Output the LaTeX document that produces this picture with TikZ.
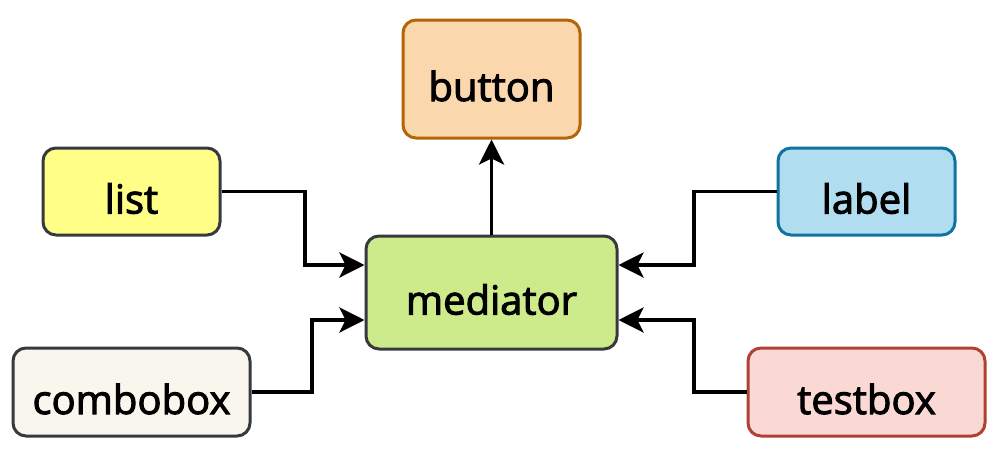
\documentclass[tikz,border=0pt]{standalone}
\usepackage{fontspec}
\setmainfont{Open Sans}
\newfontfamily\boxfont[FakeBold=2.5]{Open Sans}
\usetikzlibrary{arrows.meta}
\definecolor{btnfill}{HTML}{FAD7AC}
\definecolor{btnline}{HTML}{B46504}
\definecolor{listfill}{HTML}{FFFF88}
\definecolor{darkline}{HTML}{36393D}
\definecolor{lblfill}{HTML}{B1DDF0}
\definecolor{lblline}{HTML}{10739E}
\definecolor{medfill}{HTML}{CDEB8B}
\definecolor{cbfill}{HTML}{F9F7ED}
\definecolor{tbfill}{HTML}{FAD9D5}
\definecolor{tbline}{HTML}{AE4132}
\newcommand{\boxtext}[1]{\raisebox{-7pt}[\height][\depth]{#1}}
\tikzset{
  box/.style={draw, line width=3pt, rounded corners=13pt, inner sep=0pt,
    font=\boxfont\fontsize{40}{46}\selectfont, text=black},
  conn/.style={line width=3.6pt, draw=black,
    -{Stealth[length=25pt,width=25pt,inset=6pt]}}
}
\begin{document}
\begin{tikzpicture}[x=1pt,y=-1pt]
\useasboundingbox (0,0) rectangle (992,450);
\node[box, fill=btnfill, draw=btnline, minimum width=177pt, minimum height=118pt] (button) at (491.5,79) {\boxtext{button}};
\node[box, fill=listfill, draw=darkline, minimum width=177pt, minimum height=87pt] (list) at (131.5,191.5) {\boxtext{list}};
\node[box, fill=lblfill, draw=lblline, minimum width=177pt, minimum height=87pt] (label) at (866.5,191.5) {\boxtext{label}};
\node[box, fill=medfill, draw=darkline, minimum width=251pt, minimum height=113pt] (mediator) at (491.5,292.5) {\boxtext{mediator}};
\node[box, fill=cbfill, draw=darkline, minimum width=237pt, minimum height=88pt] (combobox) at (131.5,392) {\boxtext{combobox}};
\node[box, fill=tbfill, draw=tbline, minimum width=237pt, minimum height=88pt] (testbox) at (866.5,392) {\boxtext{testbox}};
\coordinate (mL1) at (mediator.west |- 0,265);
\coordinate (mL2) at (mediator.west |- 0,320);
\coordinate (mR1) at (mediator.east |- 0,265);
\coordinate (mR2) at (mediator.east |- 0,320);
\draw[conn] (mediator.north) -- (button.south);
\draw[conn] (list.east) -| (305,228) |- (mL1);
\draw[conn] (combobox.east) -| (312,356) |- (mL2);
\draw[conn] (label.west) -| (694,228) |- (mR1);
\draw[conn] (testbox.west) -| (694,356) |- (mR2);
\end{tikzpicture}
\end{document}
